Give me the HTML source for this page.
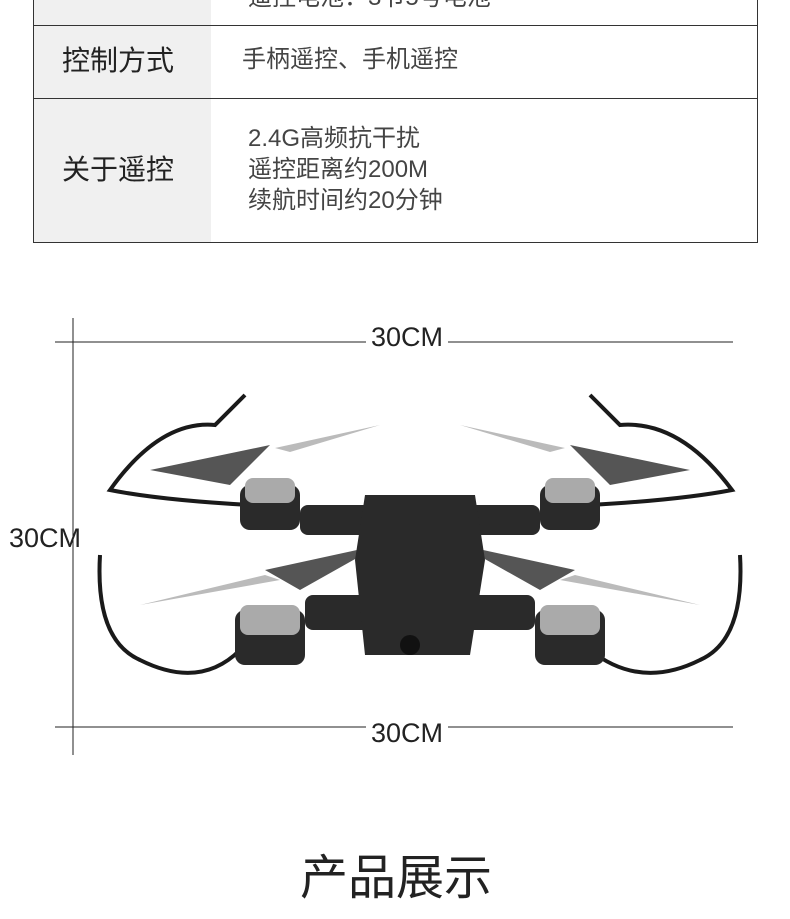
<!DOCTYPE html>
<html><head><meta charset="utf-8"><style>
body{margin:0;width:790px;height:919px;background:#fff;position:relative;overflow:hidden;font-family:"Liberation Sans","Noto Sans CJK SC",sans-serif;color:#222}
.a{position:absolute}
.t{font-size:28px;color:#222;line-height:34px}
.v{font-size:24px;color:#444;line-height:31px}
</style></head><body>
<div class="a" style="left:33px;top:0;width:178px;height:243px;background:#f0f0f0"></div>
<div class="a" style="left:33px;top:0;width:1px;height:243px;background:#333"></div>
<div class="a" style="left:757px;top:0;width:1px;height:243px;background:#333"></div>
<div class="a" style="left:33px;top:25px;width:725px;height:1px;background:#333"></div>
<div class="a" style="left:33px;top:98px;width:725px;height:1px;background:#333"></div>
<div class="a" style="left:33px;top:242px;width:725px;height:1px;background:#333"></div>
<div class="a v" style="left:248px;top:-18px">遥控电池：3节5号电池</div>
<div class="a t" style="left:62px;top:44px">控制方式</div>
<div class="a v" style="left:242px;top:44px">手柄遥控、手机遥控</div>
<div class="a t" style="left:62px;top:153px">关于遥控</div>
<div class="a v" style="left:248px;top:123px">2.4G高频抗干扰<br>遥控距离约200M<br>续航时间约20分钟</div>

<svg class="a" style="left:0;top:0" width="790" height="919">
<g stroke="#222" stroke-width="1" fill="none">
<line x1="73" y1="318" x2="73" y2="755"/>
<line x1="55" y1="342" x2="366" y2="342"/><line x1="448" y1="342" x2="733" y2="342"/>
<line x1="55" y1="727" x2="366" y2="727"/><line x1="448" y1="727" x2="733" y2="727"/>
</g>
<g stroke="#1a1a1a" stroke-width="4" fill="none">
<path d="M245 395 L215 425 Q160 420 110 490 Q160 500 250 505"/>
<path d="M590 395 L620 425 Q680 420 732 490 Q680 500 590 505"/>
<path d="M100 555 Q95 640 140 660 Q200 690 240 650"/>
<path d="M740 555 Q745 640 700 660 Q640 690 590 650"/>
</g>
<g fill="#555">
<path d="M150 470 L270 445 L230 485 Z"/><path d="M275 448 L380 425 L290 452 Z" fill="#bbb"/>
<path d="M690 470 L570 445 L610 485 Z"/><path d="M565 448 L460 425 L550 452 Z" fill="#bbb"/>
<path d="M140 605 L265 575 L280 580 Z" fill="#bbb"/><path d="M265 570 L380 545 L300 590 Z"/>
<path d="M700 605 L575 575 L560 580 Z" fill="#bbb"/><path d="M575 570 L460 545 L540 590 Z"/>
</g>
<g fill="#2a2a2a">
<rect x="300" y="505" width="240" height="30" rx="8"/>
<rect x="305" y="595" width="230" height="35" rx="8"/>
<path d="M365 495 L475 495 L485 560 L470 655 L365 655 L355 560 Z"/>
<rect x="240" y="485" width="60" height="45" rx="10"/>
<rect x="540" y="485" width="60" height="45" rx="10"/>
<rect x="235" y="610" width="70" height="55" rx="10"/>
<rect x="535" y="610" width="70" height="55" rx="10"/>
</g>
<g fill="#aaa">
<rect x="245" y="478" width="50" height="25" rx="8"/>
<rect x="545" y="478" width="50" height="25" rx="8"/>
<rect x="240" y="605" width="60" height="30" rx="8"/>
<rect x="540" y="605" width="60" height="30" rx="8"/>
</g>
<circle cx="410" cy="645" r="10" fill="#111"/>
<text x="371" y="346" font-family="Liberation Sans" font-size="27" fill="#222">30CM</text>
<text x="9" y="547" font-family="Liberation Sans" font-size="27" fill="#222">30CM</text>
<text x="371" y="742" font-family="Liberation Sans" font-size="27" fill="#222">30CM</text>
</svg>
<div class="a" style="left:300px;top:838px;font-size:48px;color:#222">产品展示</div>
</body></html>
